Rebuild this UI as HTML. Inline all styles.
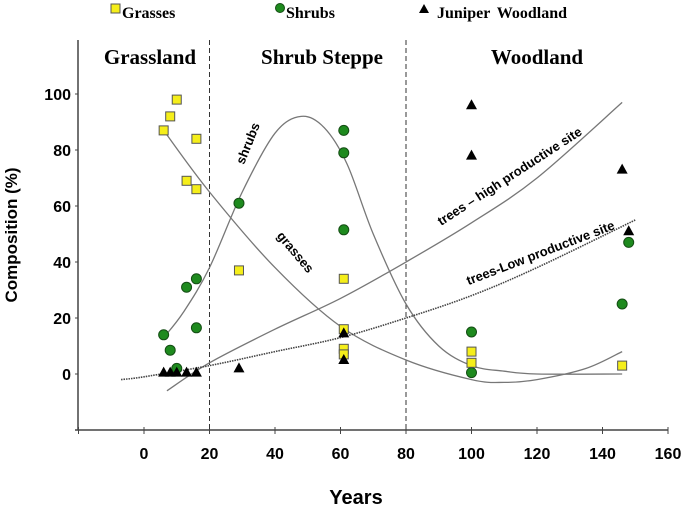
<!DOCTYPE html>
<html><head><meta charset="utf-8">
<style>
html,body{margin:0;padding:0;background:#fff;}
svg{display:block;}
.ser{font-family:"Liberation Serif",serif;font-weight:bold;}
.san{font-family:"Liberation Sans",sans-serif;font-weight:bold;}
</style></head>
<body>
<svg id="chart" width="685" height="508" viewBox="0 0 685 508" xmlns="http://www.w3.org/2000/svg">
<g id="g"></g>
</svg>
<script>
const xTicks=[0,20,40,60,80,100,120,140,160];
const yTicks=[0,20,40,60,80,100];
const grassX=[6,8,10,16,13,16,29,61,61,61,61,100,100,146];
const grassY=[87,92,98,84,69,66,37,34,16,9,7,8,4,3];
const shrubX=[6,8,10,13,16,16,29,61,61,61,100,100,146,148];
const shrubY=[14,8.5,2,31,34,16.5,61,87,79,51.5,15,0.5,25,47];
const junX=[6,8,10,13,16,29,61,61,100,100,146,148];
const junY=[0.5,0.5,0.5,0.5,0.5,2,5,14.5,96,78,73,51];
const shrubCurveX=[6,12,20,30,40,48,55,62,70,80,90,100,110,120,146];
const shrubCurveY=[13,22,38,65,86,92,88,75,50,25,10,3,1,0,0];
const grassCurveX=[6,20,40,60,80,100,110,120,135,146];
const grassCurveY=[87,65,38,17,5,-2,-3,-2,2,8];
const highCurveX=[7,20,40,60,80,100,120,146];
const highCurveY=[-6,4,16,27,40,54,70,97];
const lowCurveX=[-7,0,20,40,60,80,100,120,150];
const lowCurveY=[-2,-1,3,8,13,20,28,38,55];

const X=v=>144+v*3.275, Y=v=>374-v*2.8;
const NS="http://www.w3.org/2000/svg", g=document.getElementById('g');
function mk(tag,at,txt){const e=document.createElementNS(NS,tag);for(const k in at)e.setAttribute(k,at[k]);if(txt!=null)e.textContent=txt;g.appendChild(e);return e;}
function smooth(xs,ys){const p=xs.map((x,i)=>[X(x),Y(ys[i])]);let d=`M${p[0][0]},${p[0][1]}`;
 for(let i=0;i<p.length-1;i++){const p0=p[i-1]||p[i],p1=p[i],p2=p[i+1],p3=p[i+2]||p2;
 d+=` C${p1[0]+(p2[0]-p0[0])/6},${p1[1]+(p2[1]-p0[1])/6} ${p2[0]-(p3[0]-p1[0])/6},${p2[1]-(p3[1]-p1[1])/6} ${p2[0]},${p2[1]}`;}return d;}

// axes
let e=mk('line',{x1:78,y1:40,x2:78,y2:430,stroke:'#444','stroke-width':1.5});

e=mk('line',{x1:75,y1:430,x2:668,y2:430,stroke:'#444','stroke-width':1.5});

[-20].concat(xTicks).forEach(t=>{e=mk('line',{x1:X(t),y1:427,x2:X(t),y2:434,stroke:'#444'});
});
xTicks.forEach(t=>{e=mk('text',{x:X(t),y:459,'text-anchor':'middle','font-size':16,class:'san'},t);
});
yTicks.forEach(t=>{e=mk('line',{x1:75,y1:Y(t),x2:78,y2:Y(t),stroke:'#444'});

e=mk('text',{x:71,y:Y(t)+6,'text-anchor':'end','font-size':16,class:'san'},t);
});
// dividers
[20,80].forEach(t=>{e=mk('line',{x1:X(t),y1:40,x2:X(t),y2:430,stroke:'#333','stroke-dasharray':'5,3'});
});
// headers
[['Grassland',150],['Shrub Steppe',322],['Woodland',537]].forEach(h=>{e=mk('text',{x:h[1],y:64,'text-anchor':'middle','font-size':21,class:'ser'},h[0]);
});
// curves
e=mk('path',{d:smooth(shrubCurveX,shrubCurveY),fill:'none',stroke:'#777','stroke-width':1.3});

e=mk('path',{d:smooth(grassCurveX,grassCurveY),fill:'none',stroke:'#777','stroke-width':1.3});

e=mk('path',{d:smooth(highCurveX,highCurveY),fill:'none',stroke:'#777','stroke-width':1.3});

e=mk('path',{d:smooth(lowCurveX,lowCurveY),fill:'none',stroke:'#444','stroke-width':1.6,'stroke-dasharray':'1.5,1'});

// curve labels
[['shrubs',252,145,-68],['grasses',292,255,50],['trees – high productive site',512,180,-33],['trees-Low productive site',542,257,-21]].forEach(l=>{
e=mk('text',{x:l[1],y:l[2],'text-anchor':'middle','font-size':13,class:'san',transform:`rotate(${l[3]} ${l[1]} ${l[2]})`},l[0]);
});
// points
shrubX.forEach((x,i)=>{e=mk('circle',{cx:X(x),cy:Y(shrubY[i]),r:5,fill:'#1e8a1e',stroke:'#144d14'});
});
grassX.forEach((x,i)=>{e=mk('rect',{x:X(x)-4.5,y:Y(grassY[i])-4.5,width:9,height:9,fill:'#f5ee1a',stroke:'#555'});
});
junX.forEach((x,i)=>{const cx=X(x),cy=Y(junY[i]);e=mk('polygon',{points:`${cx-5.5},${cy+4} ${cx+5.5},${cy+4} ${cx},${cy-6}`,fill:'#000'});
});
// legend
e=mk('rect',{x:111,y:4,width:9,height:9,fill:'#f5ee1a',stroke:'#555'});
e=mk('text',{x:122,y:18,'font-size':16,class:'ser'},'Grasses');
e=mk('circle',{cx:280,cy:8,r:4.5,fill:'#1e8a1e',stroke:'#144d14'});
e=mk('text',{x:286,y:18,'font-size':16,class:'ser'},'Shrubs');
e=mk('polygon',{points:'419,13 429,13 424,4',fill:'#000'});
e=mk('text',{x:437,y:18,'font-size':16,class:'ser','word-spacing':3},'Juniper Woodland');
// axis titles
e=mk('text',{x:17,y:235,'text-anchor':'middle','font-size':17,class:'san',transform:'rotate(-90 17 235)'},'Composition (%)');

e=mk('text',{x:356,y:504,'text-anchor':'middle','font-size':20,class:'san'},'Years');

</script>
</body></html>
